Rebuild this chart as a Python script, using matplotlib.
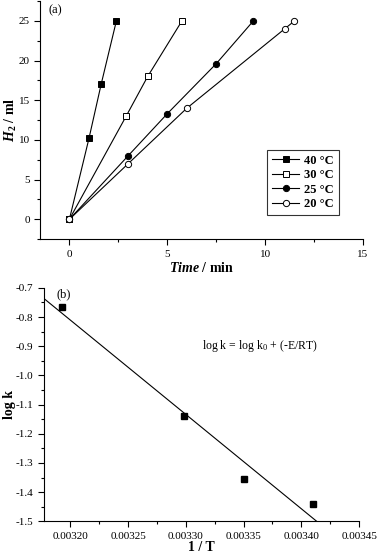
import numpy as np
import matplotlib
matplotlib.use("Agg")
import matplotlib.pyplot as plt
from matplotlib.ticker import MultipleLocator

plt.rcParams["font.family"] = ["Liberation Serif", "DejaVu Serif"]
plt.rcParams["mathtext.fontset"] = "custom"
plt.rcParams["mathtext.rm"] = "Liberation Serif"
plt.rcParams["mathtext.it"] = "Liberation Serif:italic"
plt.rcParams["mathtext.bf"] = "Liberation Serif:bold"
plt.rcParams["mathtext.bfit"] = "Liberation Serif:italic:bold"

# panel (a): H2 volume vs time
T40_TIME = [0, 1.0, 1.63, 2.4]
T40_H2 = [0, 10.2, 17.1, 25]
T30_TIME = [0, 2.9, 4.0, 5.75]
T30_H2 = [0, 13, 18, 25]
T25_TIME = [0, 3.0, 5.0, 7.5, 9.4]
T25_H2 = [0, 8, 13.3, 19.6, 25]
T20_TIME = [0, 3.0, 6.0, 11.0, 11.5]
T20_H2 = [0, 7, 14, 24, 25]

# panel (b): Arrhenius plot
INV_T = [0.003193, 0.003298, 0.00335, 0.00341]
LOG_K = [-0.765, -1.14, -1.355, -1.44]


def style_axes(ax):
    for side in ["top", "right"]:
        ax.spines[side].set_visible(False)
    ax.tick_params(which="both", direction="out", labelsize=8, width=0.8)
    ax.tick_params(which="major", length=4)
    ax.tick_params(which="minor", length=2.5)


def main():
    fig = plt.figure(figsize=(3.78, 5.6), dpi=100)

    ax1 = fig.add_axes([0.106, 0.573, 0.854, 0.425])
    series = [
        (T40_TIME, T40_H2, "s", "black", "40 °C"),
        (T30_TIME, T30_H2, "s", "white", "30 °C"),
        (T25_TIME, T25_H2, "o", "black", "25 °C"),
        (T20_TIME, T20_H2, "o", "white", "20 °C"),
    ]
    for t, h, m, fc, lab in series:
        ax1.plot(t, h, color="black", lw=0.8, marker=m, ms=4.5,
                 mfc=fc, mec="black", mew=0.7, label=lab)
    ax1.set_xlim(-1.5, 15)
    ax1.set_ylim(-2.5, 27.5)
    ax1.xaxis.set_major_locator(MultipleLocator(5))
    ax1.xaxis.set_minor_locator(MultipleLocator(2.5))
    ax1.yaxis.set_major_locator(MultipleLocator(5))
    ax1.yaxis.set_minor_locator(MultipleLocator(2.5))
    style_axes(ax1)
    ax1.set_xlabel(r"$\mathbfit{Time}$ / min", fontsize=10, fontweight="bold")
    ax1.set_ylabel(r"$\mathbfit{H}_\mathbf{2}$ / ml", fontsize=10, fontweight="bold")
    ax1.xaxis.set_label_coords(0.5, -0.09)
    ax1.yaxis.set_label_coords(-0.064, 0.5)
    ax1.text(0.025, 0.985, "(a)", transform=ax1.transAxes, fontsize=9, va="top")
    leg = ax1.legend(loc="lower right", bbox_to_anchor=(0.945, 0.075),
                     prop={"weight": "bold", "size": 9}, frameon=True,
                     fancybox=False, edgecolor="black", handlelength=2.2,
                     labelspacing=0.2, borderpad=0.4, handletextpad=0.4)
    leg.get_frame().set_linewidth(0.8)

    ax2 = fig.add_axes([0.116, 0.069, 0.834, 0.417])
    ax2.plot(INV_T, LOG_K, linestyle="none", marker="s", ms=4.5, color="black")
    slope, icpt = np.polyfit(INV_T, LOG_K, 1)
    xfit = np.array([0.00317, 0.00345])
    ax2.plot(xfit, slope * xfit + icpt, color="black", lw=0.8)
    ax2.set_xlim(0.003177, 0.00345)
    ax2.set_ylim(-1.5, -0.7)
    ax2.xaxis.set_major_locator(MultipleLocator(0.00005))
    ax2.xaxis.set_minor_locator(MultipleLocator(0.000025))
    ax2.yaxis.set_major_locator(MultipleLocator(0.1))
    ax2.yaxis.set_minor_locator(MultipleLocator(0.05))
    ax2.xaxis.set_major_formatter(plt.FuncFormatter(lambda v, p: f"{v:.5f}"))
    ax2.yaxis.set_major_formatter(plt.FuncFormatter(lambda v, p: f"{v:.1f}"))
    style_axes(ax2)
    ax2.set_xlabel("1 / T", fontsize=10, fontweight="bold")
    ax2.set_ylabel("log k", fontsize=10, fontweight="bold")
    ax2.xaxis.set_label_coords(0.5, -0.085)
    ax2.yaxis.set_label_coords(-0.087, 0.5)
    ax2.text(0.04, 1.0, "(b)", transform=ax2.transAxes, fontsize=9, va="top")
    ax2.text(0.003364, -0.9, r"log k = log k$_0$ + (-E/RT)", fontsize=8.5,
             ha="center", va="center")

    fig.savefig("out.png", dpi=100)


if __name__ == "__main__":
    main()
